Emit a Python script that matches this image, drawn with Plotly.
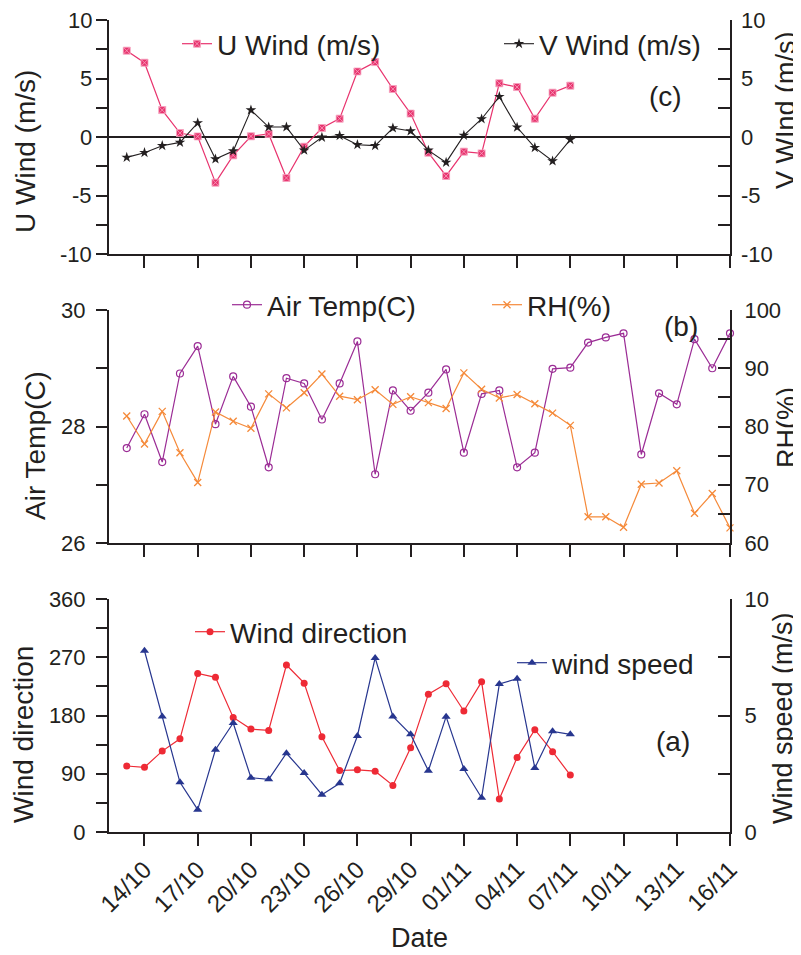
import plotly.graph_objects as go

# ---------------- data ----------------
dates_oct_nov = ["2012-10-13", "2012-10-14", "2012-10-15", "2012-10-16", "2012-10-17",
                 "2012-10-18", "2012-10-19", "2012-10-20", "2012-10-21", "2012-10-22",
                 "2012-10-23", "2012-10-24", "2012-10-25", "2012-10-26", "2012-10-27",
                 "2012-10-28", "2012-10-29", "2012-10-30", "2012-10-31", "2012-11-01",
                 "2012-11-02", "2012-11-03", "2012-11-04", "2012-11-05", "2012-11-06",
                 "2012-11-07"]
dates_late = ["2012-11-08", "2012-11-09", "2012-11-10", "2012-11-11", "2012-11-12",
              "2012-11-13", "2012-11-14", "2012-11-15", "2012-11-16"]
dates_full = dates_oct_nov + dates_late
dates_speed = dates_oct_nov[1:]

u_wind = [7.38, 6.35, 2.3, 0.34, 0.05, -3.9, -1.57, 0.06, 0.26, -3.5, -0.83, 0.77, 1.57,
          5.6, 6.4, 4.1, 2.0, -1.34, -3.33, -1.25, -1.4, 4.59, 4.27, 1.57, 3.79, 4.39]
v_wind = [-1.74, -1.34, -0.74, -0.46, 1.2, -1.88, -1.2, 2.3, 0.85, 0.85, -1.14, -0.03, 0.11,
          -0.66, -0.74, 0.77, 0.51, -1.14, -2.17, 0.14, 1.54, 3.45, 0.83, -0.91, -2.05, -0.23]

air_temp = [27.63, 28.21, 27.39, 28.91, 29.38, 28.04, 28.86, 28.34, 27.30, 28.83, 28.74,
            28.12, 28.74, 29.46, 27.18, 28.62, 28.27, 28.58, 28.98, 27.55, 28.56, 28.62,
            27.30, 27.55, 28.99, 29.01, 29.44, 29.53, 29.60, 27.52, 28.57, 28.38, 29.50,
            29.00, 29.60]
rh = [81.8, 77.0, 82.6, 75.5, 70.4, 82.5, 80.9, 79.7, 85.6, 83.2, 85.8, 89.0, 85.2, 84.6,
      86.3, 83.8, 85.1, 84.1, 83.1, 89.2, 86.4, 84.9, 85.5, 83.9, 82.3, 80.2, 64.5, 64.5,
      62.7, 70.1, 70.3, 72.4, 65.1, 68.5, 62.6]

wind_dir = [102, 100, 125, 144, 245, 239, 177, 159, 157, 258, 230, 147, 95, 96, 94, 72,
            130, 213, 229, 187, 232, 51, 115, 158, 124, 88]
wind_speed = [7.78, 4.96, 2.13, 0.96, 3.53, 4.68, 2.33, 2.26, 3.38, 2.53, 1.6, 2.09, 4.12,
              7.47, 4.96, 4.19, 2.63, 4.95, 2.7, 1.47, 6.35, 6.58, 2.75, 4.32, 4.19]

# tick labels of the U/V wind panel (written with a plain hyphen as in the original)
uv_tickvals = [-10, -5, 0, 5, 10]
uv_ticktext = ["-10", "-5", "0", "5", "10"]

# ---------------- style ----------------
FONT = "Liberation Sans, Arial, sans-serif"
INK = "#231f20"
PINK = "#e8336e"
PURPLE = "#9b2c95"
ORANGE = "#f58a3a"
RED = "#ee2a35"
BLUE = "#27368f"

OFF = 8  # page body margin
W, H = 801 - OFF, 955 - OFF
PLOT_L, PLOT_R, PLOT_T, PLOT_B = 109, 730, 20, 832   # page pixel positions
L, T = PLOT_L - OFF, PLOT_T - OFF
R = W - (PLOT_R - OFF)
B = H - (PLOT_B - OFF)
PW, PH = PLOT_R - PLOT_L, PLOT_B - PLOT_T


def px_x(px):
    return (px - PLOT_L) / PW


def px_y(py):
    return (PLOT_B - py) / PH


dom_c = [px_y(254), 1.0]
dom_b = [px_y(543), px_y(310)]
dom_a = [0.0, px_y(599)]

fig = go.Figure()

fig.add_trace(go.Scatter(x=dates_oct_nov, y=wind_dir, name="Wind direction", mode="lines+markers",
                         line=dict(color=RED, width=1.2), marker=dict(symbol="circle", size=7, color=RED),
                         xaxis="x", yaxis="y", legend="legend5", cliponaxis=False))
fig.add_trace(go.Scatter(x=dates_speed, y=wind_speed, name="wind speed", mode="lines+markers",
                         line=dict(color=BLUE, width=1.2), marker=dict(symbol="triangle-up", size=8, color=BLUE),
                         xaxis="x", yaxis="y2", legend="legend6", cliponaxis=False))
fig.add_trace(go.Scatter(x=dates_full, y=air_temp, name="Air Temp(C)", mode="lines+markers",
                         line=dict(color=PURPLE, width=1.2),
                         marker=dict(symbol="circle-open", size=7, color=PURPLE, line=dict(width=1.2)),
                         xaxis="x2", yaxis="y3", legend="legend3", cliponaxis=False))
fig.add_trace(go.Scatter(x=dates_full, y=rh, name="RH(%)", mode="lines+markers",
                         line=dict(color=ORANGE, width=1.2),
                         marker=dict(symbol="x-thin-open", size=7, color=ORANGE, line=dict(width=1.3, color=ORANGE)),
                         xaxis="x2", yaxis="y4", legend="legend4", cliponaxis=False))
fig.add_trace(go.Scatter(x=dates_oct_nov, y=u_wind, name="U Wind (m/s)", mode="lines+markers",
                         line=dict(color=PINK, width=1.2),
                         marker=dict(symbol="square-x", size=7, color=PINK, line=dict(width=0.8, color="#f6a5c0")),
                         xaxis="x3", yaxis="y5", legend="legend", cliponaxis=False))
fig.add_trace(go.Scatter(x=dates_oct_nov, y=v_wind, name="V Wind (m/s)", mode="lines+markers",
                         line=dict(color=INK, width=1.1), marker=dict(symbol="star", size=8, color=INK),
                         xaxis="x3", yaxis="y6", legend="legend2", cliponaxis=False))

xcommon = dict(type="date", range=["2012-10-12", "2012-11-16"], tick0="2012-10-14",
               dtick=3 * 86400000, tickformat="%d/%m", ticks="outside", ticklen=12, tickwidth=2,
               tickcolor=INK, showline=True, linewidth=2, linecolor=INK, showgrid=False,
               zeroline=False, tickfont=dict(family=FONT, size=24, color=INK))

LEFT_STANDOFF = 6
RIGHT_STANDOFF = 8


def yleft(rng, dt, mdt, dom, anchor):
    return dict(domain=dom, anchor=anchor, range=rng, dtick=dt, ticks="outside", ticklen=11,
                tickwidth=2, tickcolor=INK, showline=True, linewidth=2, linecolor=INK,
                showgrid=False, zeroline=False, ticklabelstandoff=LEFT_STANDOFF,
                tickfont=dict(family=FONT, size=22, color=INK),
                minor=dict(dtick=mdt, ticks="outside", ticklen=11, tickwidth=2,
                           tickcolor=INK, showgrid=False))


def yright(rng, dt, mdt, over, anchor):
    return dict(overlaying=over, side="right", anchor=anchor, range=rng, dtick=dt, ticks="inside",
                ticklen=12, tickwidth=2, tickcolor=INK, showline=True, linewidth=2, linecolor=INK,
                showgrid=False, zeroline=False, ticklabelstandoff=RIGHT_STANDOFF,
                tickfont=dict(family=FONT, size=22, color=INK),
                minor=dict(dtick=mdt, ticks="inside", ticklen=12, tickwidth=2,
                           tickcolor=INK, showgrid=False))


leg_common = dict(bgcolor="rgba(0,0,0,0)", borderwidth=0, xanchor="left", yanchor="middle",
                  font=dict(family=FONT, size=28, color=INK), itemwidth=30)

yaxis5 = yleft([-10, 10], 5, 2.5, dom_c, "x3")
yaxis5.update(zeroline=True, zerolinecolor=INK, zerolinewidth=2, showticklabels=False)
yaxis6 = yright([-10, 10], 5, 2.5, "y5", "x3")
yaxis6.update(showticklabels=False)

fig.update_layout(
    width=W, height=H, margin=dict(l=L, r=R, t=T, b=B, autoexpand=False),
    paper_bgcolor="white", plot_bgcolor="white",
    font=dict(family=FONT, color=INK),
    xaxis=dict(**xcommon, domain=[0, 1], anchor="y", tickangle=-45,
               title=dict(text="Date", font=dict(family=FONT, size=27, color=INK), standoff=12)),
    xaxis2=dict(**xcommon, domain=[0, 1], anchor="y3", showticklabels=False),
    xaxis3=dict(**xcommon, domain=[0, 1], anchor="y5", showticklabels=False),
    yaxis=yleft([0, 360], 90, 45, dom_a, "x"),
    yaxis2=yright([0, 10], 5, 2.5, "y", "x"),
    yaxis3=yleft([26, 30], 2, 1, dom_b, "x2"),
    yaxis4=yright([60, 100], 10, 5, "y3", "x2"),
    yaxis5=yaxis5,
    yaxis6=yaxis6,
    legend=dict(**leg_common, x=px_x(177), y=px_y(44)),
    legend2=dict(**leg_common, x=px_x(499), y=px_y(44)),
    legend3=dict(**leg_common, x=px_x(227), y=px_y(305)),
    legend4=dict(**leg_common, x=px_x(487), y=px_y(305)),
    legend5=dict(**leg_common, x=px_x(190), y=px_y(632)),
    legend6=dict(**leg_common, x=px_x(512), y=px_y(663)),
    showlegend=True,
)

# U/V wind tick labels placed on their own axes' scale (hyphen-minus as in the original)
for val, txt in zip(uv_tickvals, uv_ticktext):
    fig.add_annotation(text=txt, x=px_x(PLOT_L - 11 - LEFT_STANDOFF), y=val, xref="paper", yref="y5",
                       showarrow=False, xanchor="right", yanchor="middle", borderpad=0, xshift=1,
                       font=dict(family=FONT, size=22, color=INK))
    fig.add_annotation(text=txt, x=px_x(PLOT_R + RIGHT_STANDOFF + 2), y=val, xref="paper", yref="y6",
                       showarrow=False, xanchor="left", yanchor="middle", borderpad=0,
                       font=dict(family=FONT, size=22, color=INK))

titles = [
    ("U Wind (m/s)", 25, 152, 28),
    ("Air Temp(C)", 35, 446, 28),
    ("Wind direction", 23, 735, 28),
    ("V WInd (m/s)", 786, 110, 27),
    ("RH(%)", 787, 428, 27),
    ("Wind speed (m/s)", 783, 718, 27),
]
for txt, tx, ty, fs in titles:
    fig.add_annotation(text=txt, x=px_x(tx), y=px_y(ty), xref="paper", yref="paper",
                       textangle=-90, showarrow=False, xanchor="center", yanchor="middle",
                       font=dict(family=FONT, size=fs, color=INK))

panels = [("(c)", 665, 96), ("(b)", 681, 326), ("(a)", 673, 741)]
for txt, tx, ty in panels:
    fig.add_annotation(text=txt, x=px_x(tx), y=px_y(ty), xref="paper", yref="paper",
                       showarrow=False, xanchor="center", yanchor="middle",
                       font=dict(family=FONT, size=28, color=INK))

fig.write_html("out.html")
